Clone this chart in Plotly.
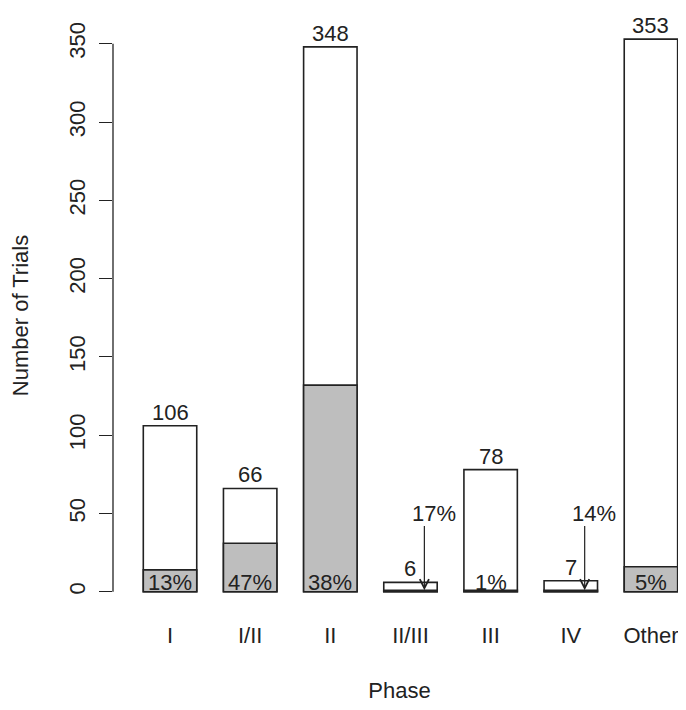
import plotly.graph_objects as go

phases = ["I", "I/II", "II", "II/III", "III", "IV", "Other"]
totals = [106, 66, 348, 6, 78, 7, 353]
highlighted = [14, 31, 132, 1, 1, 1, 16]
y_ticks = [0, 50, 100, 150, 200, 250, 300, 350]

# bar centres following R barplot layout (width 1, space 0.5)
xpos = [1 + 1.5 * i for i in range(len(phases))]
pcts = [f"{round(100 * h / t)}%" for h, t in zip(highlighted, totals)]

ink = "#222222"
font = dict(family="Liberation Sans, Arial, sans-serif", size=22, color=ink)

fig = go.Figure()
fig.add_trace(go.Bar(x=xpos, y=totals, width=1.0, marker=dict(color="white", line=dict(color=ink, width=1.6)),
                     hoverinfo="skip"))
fig.add_trace(go.Bar(x=xpos, y=highlighted, width=1.0, marker=dict(color="#BEBEBE", line=dict(color=ink, width=1.6)),
                     hoverinfo="skip"))

ann = []
for x, t, h, p in zip(xpos, totals, highlighted, pcts):
    ann.append(dict(x=x, y=t, text=str(t), showarrow=False, yanchor="bottom", yshift=-1, font=font))
    if t >= 20:
        ann.append(dict(x=x, y=0, text=p, showarrow=False, yanchor="bottom", yshift=-5, font=font))
    else:
        xa = x + 0.26
        ann.append(dict(x=xa, y=h, ax=xa, ay=43, axref="x", ayref="y", text="", showarrow=True,
                        arrowhead=5, arrowsize=1.5, arrowwidth=1.2, arrowcolor=ink))
        ann.append(dict(x=xa + 0.18, y=50, text=p, showarrow=False, yanchor="middle", font=font))

fig.update_layout(
    width=678, height=702,
    margin=dict(l=105, r=0, t=9, b=96),
    plot_bgcolor="white", paper_bgcolor="white",
    barmode="overlay", showlegend=False,
    font=font,
    annotations=ann,
    shapes=[dict(type="line", xref="paper", x0=0, x1=0, yref="y", y0=y_ticks[0], y1=y_ticks[-1],
                 line=dict(color=ink, width=1.3))],
)
fig.update_xaxes(range=[-0.067, 10.656], tickvals=xpos, ticktext=phases, showline=False, showgrid=False,
                 zeroline=False, ticks="", tickfont=font, ticklabelstandoff=6,
                 title=dict(text="Phase", font=font, standoff=35))
fig.update_yaxes(range=[-14.2, 367.1], tickvals=y_ticks, showline=False, showgrid=False, zeroline=False,
                 ticks="outside", ticklen=13, tickwidth=1.3, tickcolor=ink, tickangle=-90, tickfont=font,
                 ticklabelstandoff=5,
                 title=dict(text="Number of Trials", font=font, standoff=35))

fig.write_html("out.html")
